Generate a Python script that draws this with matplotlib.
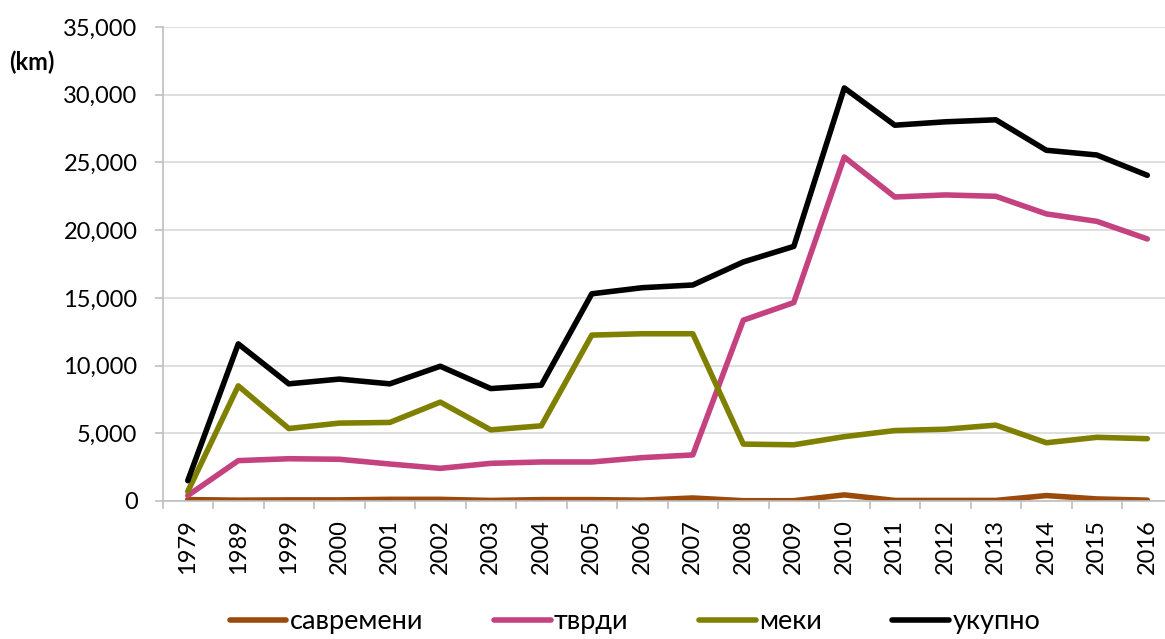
import matplotlib
matplotlib.use("Agg")
import matplotlib.pyplot as plt
from matplotlib.ticker import FuncFormatter, FixedLocator
import numpy as np

years = ["1979", "1989", "1999", "2000", "2001", "2002", "2003", "2004", "2005", "2006",
         "2007", "2008", "2009", "2010", "2011", "2012", "2013", "2014", "2015", "2016"]

savremeni = [100, 60, 80, 80, 120, 120, 40, 100, 100, 60,
             220, 20, 20, 450, 40, 40, 40, 400, 150, 60]
tvrdi = [400, 2980, 3120, 3080, 2730, 2410, 2780, 2880, 2880, 3200,
         3400, 13350, 14650, 25400, 22450, 22600, 22500, 21200, 20650, 19350]
meki = [700, 8500, 5350, 5750, 5800, 7300, 5250, 5550, 12250, 12350,
        12350, 4200, 4150, 4750, 5200, 5300, 5600, 4300, 4700, 4600]
ukupno = [1500, 11600, 8650, 9000, 8650, 9950, 8300, 8550, 15300, 15750,
          15950, 17650, 18800, 30500, 27750, 28000, 28150, 25900, 25550, 24050]

series_names = ["савремени", "тврди", "меки", "укупно"]
series_colors = ["#9C4A0C", "#C3427F", "#808000", "#000000"]

plt.rcParams["font.family"] = ["Lato", "DejaVu Sans"]

fig = plt.figure(figsize=(11.65, 6.39), dpi=100)
ax = fig.add_axes([0.1395, 0.216, 0.867, 0.7417])

x = np.arange(len(years))
for vals, name, col in zip([savremeni, tvrdi, meki, ukupno], series_names, series_colors):
    ax.plot(x, vals, color=col, lw=4.0, label=name, solid_capstyle="round",
            solid_joinstyle="round")

ax.set_xlim(-0.5, len(years) - 0.5)
ax.set_ylim(0, 35000)
ax.set_yticks(np.arange(0, 35001, 5000))
ax.yaxis.set_major_formatter(FuncFormatter(lambda v, p: f"{int(v):,}"))
ax.grid(axis="y", color="#D9D9D9", lw=1.2)
ax.set_axisbelow(True)

# ticks at category boundaries, labels at category centres
ax.xaxis.set_major_locator(FixedLocator(np.arange(-0.5, len(years), 1.0)))
ax.xaxis.set_minor_locator(FixedLocator(x))
ax.set_xticklabels([])
ax.set_xticklabels(years, minor=True, rotation=90, fontsize=17)
ax.tick_params(axis="x", which="major", length=6, color="#BFBFBF", width=1.2)
ax.tick_params(axis="x", which="minor", length=0, pad=13)
ax.tick_params(axis="y", length=6, color="#BFBFBF", width=1.2, labelsize=17, pad=12)

for s in ["top", "right"]:
    ax.spines[s].set_visible(False)
for s in ["left", "bottom"]:
    ax.spines[s].set_color("#BFBFBF")
    ax.spines[s].set_linewidth(1.2)

fig.text(0.008, 0.903, "(km)", fontsize=17, fontweight="bold", va="center", ha="left")

fig.legend(loc="center", bbox_to_anchor=(0.545, 0.027), ncol=4, frameon=False,
           fontsize=19.5, handlelength=2.1, columnspacing=2.6, handletextpad=0.12,
           borderpad=0.1)

fig.savefig("out.png", dpi=100)
